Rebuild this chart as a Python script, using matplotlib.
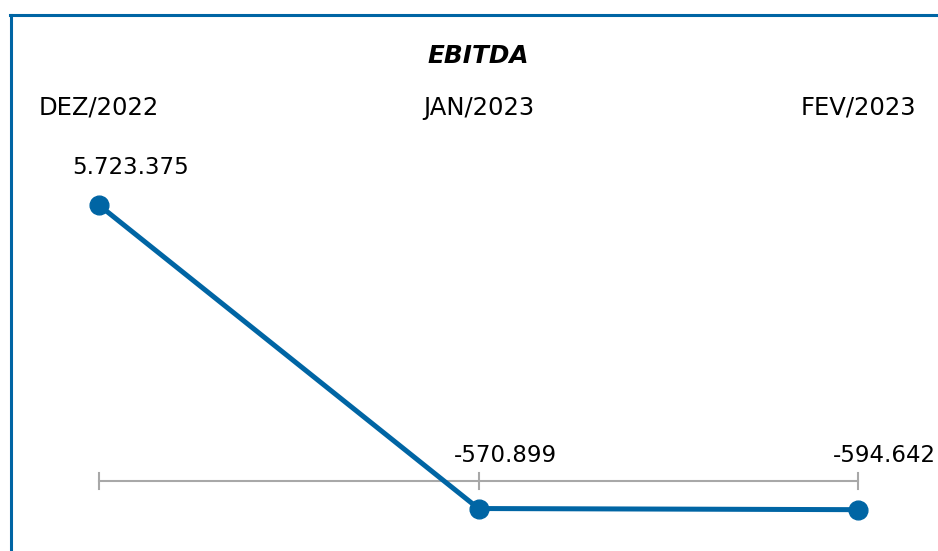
import matplotlib.pyplot as plt
from matplotlib.lines import Line2D

categories = ['DEZ/2022', 'JAN/2023', 'FEV/2023']
values = [5723375, -570899, -594642]
labels = ['5.723.375', '-570.899', '-594.642']
label_dx = [32, 27, 26]
label_dy = [38, 53, 54]

blue = '#0065a4'
gray = '#a8a8a8'

fig = plt.figure(figsize=(9.38, 5.51), dpi=100)
ax = fig.add_axes([0, 0, 1, 1])
ax.set_xlim(-0.2609, 2.2108)
ax.set_ylim(-1452000, 9978800)
ax.axis('off')

x = list(range(len(categories)))

# zero axis with ticks
ax.plot([x[0], x[-1]], [0, 0], color=gray, lw=1.5, zorder=1)
for xi in x:
    ax.plot([xi, xi], [-166000, 166000], color=gray, lw=1.5, zorder=1)

ax.plot(x, values, color=blue, lw=3.6, marker='o', markersize=13.5,
        solid_capstyle='round', zorder=3)

for xi, v, lab, dx, dy in zip(x, values, labels, label_dx, label_dy):
    ax.annotate(lab, (xi, v), xytext=(dx, dy), textcoords='offset pixels',
                ha='center', va='center', fontsize=16.5, color='black')

# category labels along the top
for xi, c in zip(x, categories):
    ax.text(xi, 0.804, c, transform=ax.get_xaxis_transform(), ha='center',
            va='center', fontsize=17.5, color='black')

fig.text(478 / 938, 1 - 56 / 551, 'EBITDA', ha='center', va='center',
         fontsize=17.8, fontweight='bold', fontstyle='italic', color='black')

# blue frame on the top and left
fig.add_artist(Line2D([10 / 938, 1], [1 - 15 / 551, 1 - 15 / 551],
                      transform=fig.transFigure, color=blue, lw=2.2))
fig.add_artist(Line2D([10.5 / 938, 10.5 / 938], [0, 1 - 15 / 551],
                      transform=fig.transFigure, color=blue, lw=2.2))

fig.savefig('out.png', dpi=100)
